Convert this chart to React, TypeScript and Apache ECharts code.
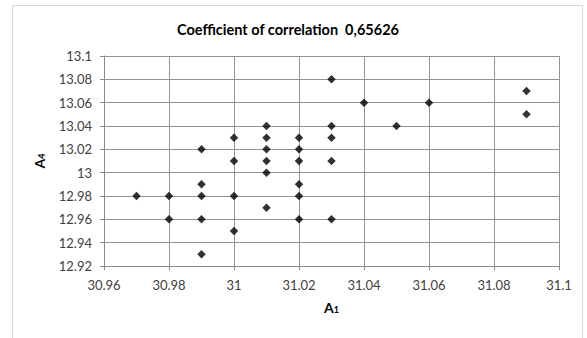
import React, { useEffect, useRef } from "react";
import * as echarts from "echarts";

// A1 / A4 measurement pairs
const a1Values = [
  30.97,
  30.98, 30.98,
  30.99, 30.99, 30.99, 30.99, 30.99,
  31.0, 31.0, 31.0, 31.0,
  31.01, 31.01, 31.01, 31.01, 31.01, 31.01,
  31.02, 31.02, 31.02, 31.02, 31.02, 31.02,
  31.03, 31.03, 31.03, 31.03, 31.03,
  31.04, 31.05, 31.06, 31.09, 31.09,
];
const a4Values = [
  12.98,
  12.98, 12.96,
  13.02, 12.99, 12.98, 12.96, 12.93,
  13.03, 13.01, 12.98, 12.95,
  13.04, 13.03, 13.02, 13.01, 13.0, 12.97,
  13.03, 13.02, 13.01, 12.99, 12.98, 12.96,
  13.08, 13.04, 13.03, 13.01, 12.96,
  13.06, 13.04, 13.06, 13.07, 13.05,
];

const titleText = "Coefficient of correlation  0,65626";
const xRange = [30.96, 31.1];
const yRange = [12.92, 13.1];
const step = 0.02;

const fmt = (v: number) => String(parseFloat(v.toFixed(2)));

export default function App() {
  const ref = useRef<HTMLDivElement>(null);

  useEffect(() => {
    if (!ref.current) return;
    const chart = echarts.init(ref.current, null, { renderer: "svg" });
    const font = "Lato, 'Open Sans', sans-serif";
    const points = a1Values.map((x, i) => [x, a4Values[i]]);
    const subRich = {
      b: { fontFamily: font, fontSize: 14, fontWeight: "bold", color: "#000" },
      s: { fontFamily: font, fontSize: 9, fontWeight: "bold", color: "#000", padding: [5, 0, 0, 0] },
    };

    chart.setOption({
      animation: false,
      backgroundColor: "#ffffff",
      textStyle: { fontFamily: font },
      title: {
        text: titleText,
        left: 283,
        top: 17,
        textAlign: "center",
        textStyle: { fontFamily: font, fontSize: 14.5, fontWeight: "bold", color: "#000" },
      },
      graphic: [
        {
          type: "rect",
          shape: { x: 12.5, y: 5.5, width: 570, height: 340 },
          style: { fill: "none", stroke: "#d9d9d9", lineWidth: 1 },
          silent: true,
        },
      ],
      grid: { left: 104, right: 28, top: 56, bottom: 72 },
      xAxis: {
        type: "value",
        min: xRange[0],
        max: xRange[1],
        interval: step,
        name: "{b|A}{s|1}",
        nameLocation: "middle",
        nameGap: 34,
        nameTextStyle: { rich: subRich },
        axisLine: { show: true, lineStyle: { color: "#8c8c8c" } },
        axisTick: { show: true, length: 4, inside: false, lineStyle: { color: "#8c8c8c" } },
        axisLabel: { formatter: fmt, color: "#404040", fontSize: 13, margin: 12, fontFamily: font },
        splitLine: { show: true, lineStyle: { color: "#949494" } },
      },
      yAxis: {
        type: "value",
        min: yRange[0],
        max: yRange[1],
        interval: step,
        name: "{b|A}{s|4}",
        nameLocation: "middle",
        nameGap: 58,
        nameRotate: 90,
        nameTextStyle: { rich: subRich },
        axisLine: { show: true, lineStyle: { color: "#8c8c8c" } },
        axisTick: { show: true, length: 4, inside: false, lineStyle: { color: "#8c8c8c" } },
        axisLabel: { formatter: fmt, color: "#404040", fontSize: 13, margin: 12, fontFamily: font },
        splitLine: { show: true, lineStyle: { color: "#949494" } },
      },
      series: [
        {
          type: "scatter",
          data: points,
          symbol: "diamond",
          symbolSize: 8.5,
          itemStyle: { color: "#000000" },
        },
      ],
    });

    return () => chart.dispose();
  }, []);

  return (
    <div
      ref={ref}
      style={{ position: "absolute", left: 0, top: 0, width: 587, height: 338 }}
    />
  );
}
